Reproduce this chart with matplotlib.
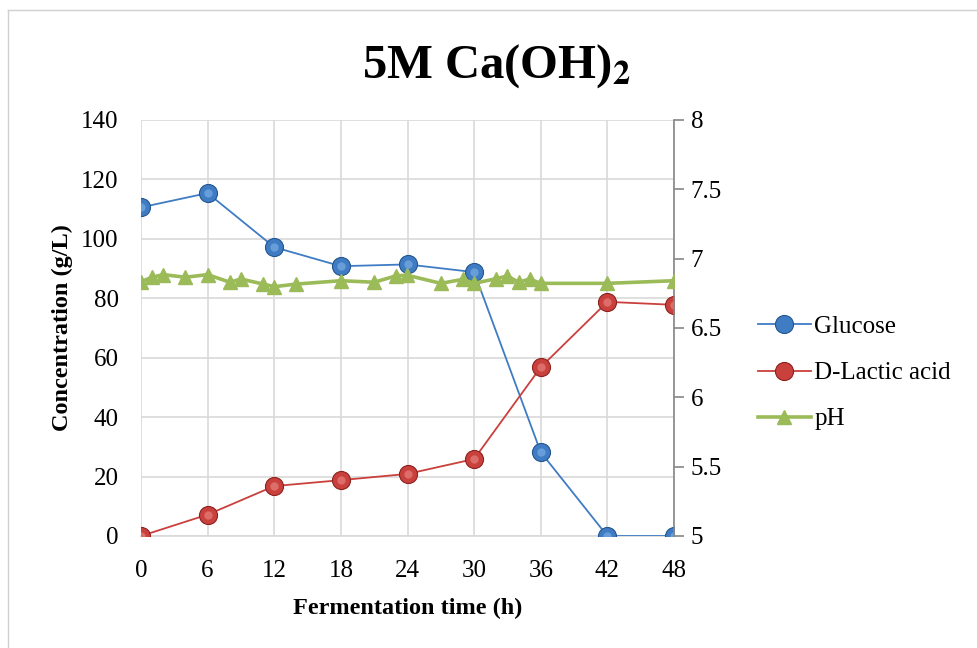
import matplotlib
matplotlib.use("Agg")
import matplotlib.pyplot as plt
from matplotlib.lines import Line2D

plt.rcParams['font.family'] = ['Liberation Serif', 'DejaVu Serif']
plt.rcParams['mathtext.fontset'] = 'stix'

# Sampling times (h) and measured values
time_main = [0, 6, 12, 18, 24, 30, 36, 42, 48]
glucose = [110.6, 115.4, 97.2, 90.8, 91.4, 88.8, 28.2, 0, 0]
lactic = [0, 7.2, 16.8, 18.8, 20.9, 25.9, 56.8, 78.8, 77.8]

time_ph = [0, 1, 2, 4, 6, 8, 9, 11, 12, 14, 18, 21, 23, 24, 27, 29, 30,
           32, 33, 34, 35, 36, 42, 48]
ph = [6.834, 6.866, 6.885, 6.866, 6.885, 6.830, 6.853, 6.817, 6.798, 6.817,
      6.841, 6.830, 6.877, 6.880, 6.822, 6.851, 6.822, 6.856, 6.875, 6.830,
      6.853, 6.822, 6.822, 6.841]

x_ticks = [0, 6, 12, 18, 24, 30, 36, 42, 48]
y_ticks = [0, 20, 40, 60, 80, 100, 120, 140]
ph_ticks = [5, 5.5, 6, 6.5, 7, 7.5, 8]

BLUE = '#3f7cc4'
BLUE_DARK = '#24568f'
BLUE_LIGHT = '#8fc0f0'
RED = '#c9403c'
RED_DARK = '#8c2220'
RED_LIGHT = '#f09a96'
GREEN = '#9bbb59'
GRID = '#d9d9d9'

fig = plt.figure(figsize=(9.78, 6.48), dpi=100)
ax = fig.add_axes([141 / 978, 1 - 536 / 648, 533 / 978, 416 / 648])
ax2 = ax.twinx()

# chart frame
fig.add_artist(Line2D([8 / 978, 8 / 978], [0, 1 - 10 / 648], color='#d0d0d0', lw=1))
fig.add_artist(Line2D([8 / 978, 1], [1 - 10 / 648, 1 - 10 / 648], color='#d0d0d0', lw=1))


def ball(axis, x, y, base, dark, light, label):
    axis.plot(x, y, color=base, lw=1.3, marker='o', ms=13,
              markerfacecolor=base, markeredgecolor=dark, markeredgewidth=0.8,
              label=label, zorder=3)
    # glossy highlight on the spheres
    axis.plot(x, y, ls='none', marker='o', ms=6, markerfacecolor=light,
              markeredgecolor='none', alpha=0.5, zorder=4)


ball(ax, time_main, glucose, BLUE, BLUE_DARK, BLUE_LIGHT, 'Glucose')
ball(ax, time_main, lactic, RED, RED_DARK, RED_LIGHT, 'D-Lactic acid')

ax2.plot(time_ph, ph, color=GREEN, lw=2.6, marker='^', ms=10,
         markerfacecolor=GREEN, markeredgecolor=GREEN, label='pH', zorder=5)

ax.set_xlim(0, 48)
ax.set_ylim(0, 140)
ax2.set_ylim(5, 8)
ax.set_xticks(x_ticks)
ax.set_yticks(y_ticks)
ax2.set_yticks(ph_ticks)
ax2.set_yticklabels([f'{v:g}' for v in ph_ticks])

ax.grid(True, color=GRID, lw=1.2)
ax.set_axisbelow(True)
for s in ['top', 'left']:
    ax.spines[s].set_visible(False)
    ax2.spines[s].set_visible(False)
ax.spines['right'].set_visible(False)
ax.spines['bottom'].set_color(GRID)
ax.spines['bottom'].set_linewidth(1.2)
ax2.spines['bottom'].set_visible(False)
ax2.spines['right'].set_color('#868686')
ax2.spines['right'].set_linewidth(1.2)

ax.tick_params(axis='both', length=0, labelsize=18, colors='black')
ax.tick_params(axis='y', pad=16)
ax.tick_params(axis='x', pad=17)
ax2.tick_params(axis='y', length=7, width=1.2, color='#868686', labelsize=18,
                pad=5)

ax.set_xlabel('Fermentation time (h)', fontsize=17.5, fontweight='bold', labelpad=12)
ax.set_ylabel('Concentration (g/L)', fontsize=17.5, fontweight='bold', labelpad=6)

fig.text(0.508, 1 - 66 / 648, r'5M Ca(OH)$_\mathbf{2}$', ha='center', va='center',
         fontsize=35, fontweight='bold')

handles = [
    Line2D([], [], color=BLUE, lw=1.3, marker='o', ms=13, markerfacecolor=BLUE,
           markeredgecolor=BLUE_DARK, markeredgewidth=0.8),
    Line2D([], [], color=RED, lw=1.3, marker='o', ms=13, markerfacecolor=RED,
           markeredgecolor=RED_DARK, markeredgewidth=0.8),
    Line2D([], [], color=GREEN, lw=2.6, marker='^', ms=10, markerfacecolor=GREEN,
           markeredgecolor=GREEN),
]
fig.legend(handles, ['Glucose', 'D-Lactic acid', 'pH'], loc='center left',
           bbox_to_anchor=(758 / 978, 1 - 373 / 648), frameon=False, fontsize=18,
           handlelength=2.1, handletextpad=0.15, labelspacing=0.95,
           borderaxespad=0, borderpad=0)

fig.savefig('out.png', dpi=100)
